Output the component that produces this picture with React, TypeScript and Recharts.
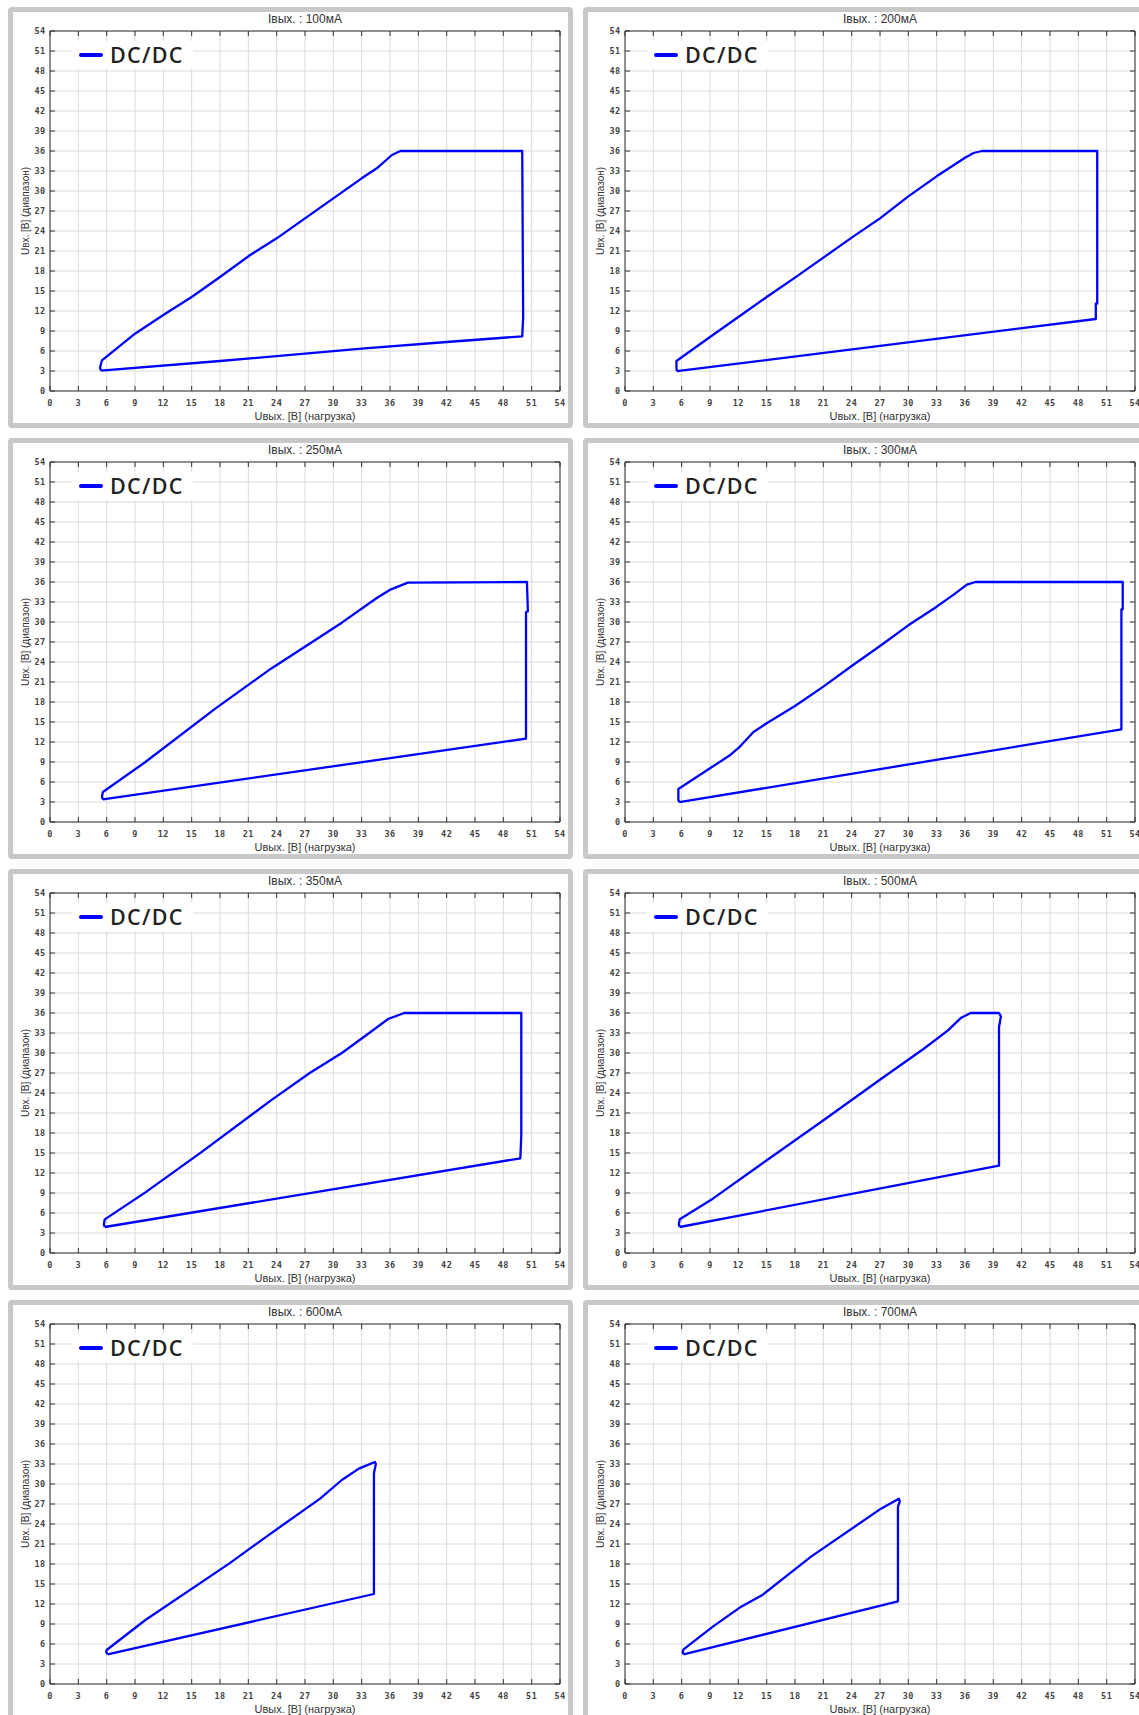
import { CartesianGrid, Line, LineChart, ReferenceLine, XAxis, YAxis } from 'recharts';

const axisTicks = [0, 3, 6, 9, 12, 15, 18, 21, 24, 27, 30, 33, 36, 39, 42, 45, 48, 51, 54];

// contour of each working area: uOut = Uвых (x), uIn = Uвх (y), in drawing order
const uOut100 = [5.4, 5.3, 5.5, 9, 12, 15, 18, 21.2, 24, 27, 30, 33, 34.6, 36.2, 37.1, 50.0, 50.1, 50.0, 42, 33, 18, 5.4];
const uIn100 = [3.05, 3.5, 4.6, 8.6, 11.4, 14.1, 17.1, 20.4, 22.9, 25.9, 28.9, 31.9, 33.4, 35.4, 36.0, 36.0, 11.0, 8.2, 7.35, 6.35, 4.5, 3.05];

const uOut200 = [5.5, 5.45, 5.45, 9, 12, 15, 18, 21, 24, 27, 30, 33, 36, 36.9, 37.8, 50.0, 50.0, 49.85, 49.85, 5.5];
const uIn200 = [2.97, 3.4, 4.5, 8.1, 11.1, 14.1, 17.0, 20.0, 23.0, 25.9, 29.2, 32.2, 35.0, 35.7, 36.0, 36.0, 13.1, 13.1, 10.8, 2.97];

const uOut250 = [5.6, 5.5, 5.6, 10.1, 17.5, 23.4, 30.9, 34.6, 36.1, 37.9, 50.5, 50.6, 50.4, 50.4, 5.6];
const uIn250 = [3.4, 3.8, 4.5, 9.0, 17.0, 23.0, 29.9, 33.6, 34.9, 35.9, 36.0, 31.6, 31.5, 12.5, 3.4];

const uOut300 = [5.76, 5.65, 5.65, 9.0, 11.1, 12.2, 13.6, 15.0, 18.0, 21.0, 24.0, 27.0, 30.0, 33.0, 34.8, 36.2, 37.1, 52.7, 52.7, 52.56, 52.56, 5.76];
const uIn300 = [2.97, 3.3, 4.95, 8.05, 10.0, 11.35, 13.5, 14.8, 17.4, 20.3, 23.4, 26.4, 29.5, 32.3, 34.1, 35.6, 36.0, 36.0, 31.9, 31.9, 13.9, 2.97];

const uOut350 = [5.8, 5.7, 5.8, 10.1, 16.0, 23.4, 27.5, 30.9, 33.8, 35.8, 37.5, 49.9, 49.9, 49.8, 5.8];
const uIn350 = [3.9, 4.3, 5.05, 9.1, 15.1, 22.9, 27.0, 30.0, 33.0, 35.1, 36.0, 36.0, 17.6, 14.2, 3.9];

const uOut500 = [5.8, 5.7, 5.8, 9.3, 15.2, 21.2, 27.1, 31.6, 34.2, 35.6, 36.6, 39.6, 39.8, 39.6, 39.6, 5.8];
const uIn500 = [3.9, 4.3, 5.05, 8.15, 14.1, 20.1, 26.1, 30.6, 33.4, 35.3, 36.0, 36.0, 35.5, 33.9, 13.1, 3.9];

const uOut600 = [6.1, 5.95, 6.0, 10.1, 19.0, 23.4, 28.6, 30.9, 32.7, 34.4, 34.5, 34.3, 34.3, 6.1];
const uIn600 = [4.45, 4.8, 5.1, 9.6, 18.1, 22.6, 27.8, 30.6, 32.3, 33.3, 33.0, 31.6, 13.5, 4.45];

const uOut700 = [6.2, 6.1, 6.2, 9.3, 12.3, 14.5, 19.7, 27.1, 29.0, 29.1, 28.9, 28.9, 6.2];
const uIn700 = [4.45, 4.8, 5.2, 8.6, 11.6, 13.3, 19.1, 26.3, 27.8, 27.4, 26.6, 12.4, 4.45];

const panels = [
  { title: 'Iвых. : 100мА', uOut: uOut100, uIn: uIn100 },
  { title: 'Iвых. : 200мА', uOut: uOut200, uIn: uIn200 },
  { title: 'Iвых. : 250мА', uOut: uOut250, uIn: uIn250 },
  { title: 'Iвых. : 300мА', uOut: uOut300, uIn: uIn300 },
  { title: 'Iвых. : 350мА', uOut: uOut350, uIn: uIn350 },
  { title: 'Iвых. : 500мА', uOut: uOut500, uIn: uIn500 },
  { title: 'Iвых. : 600мА', uOut: uOut600, uIn: uIn600 },
  { title: 'Iвых. : 700мА', uOut: uOut700, uIn: uIn700 },
];

const CHART_W = 555;
const CHART_H = 411;
const PLOT_LEFT = 37;
const PLOT_TOP = 19;
const PLOT_RIGHT = 547;
const PLOT_BOTTOM = 379;
const FRAME = '#333';
const tickFont = { fontFamily: 'DejaVu Sans Mono', fontSize: 8.5, fontWeight: 700, fill: '#444', letterSpacing: 0.5 };

function XTick({ x, payload }: any) {
  return (
    <g>
      <line x1={x} x2={x} y1={PLOT_BOTTOM} y2={PLOT_BOTTOM - 5} stroke={FRAME} />
      <line x1={x} x2={x} y1={PLOT_TOP} y2={PLOT_TOP + 5} stroke={FRAME} />
      <text x={x} y={PLOT_BOTTOM + 14.7} textAnchor="middle" {...tickFont}>
        {payload.value}
      </text>
    </g>
  );
}

function YTick({ y, payload }: any) {
  return (
    <g>
      <line x1={PLOT_LEFT} x2={PLOT_LEFT + 5} y1={y} y2={y} stroke={FRAME} />
      <line x1={PLOT_RIGHT} x2={PLOT_RIGHT - 5} y1={y} y2={y} stroke={FRAME} />
      <text x={PLOT_LEFT - 4.3} y={y + 3} textAnchor="end" {...tickFont}>
        {payload.value}
      </text>
    </g>
  );
}

function Panel({ title, uOut, uIn, left, top }: any) {
  const data = uOut.map((x: number, i: number) => ({ x, y: uIn[i] }));
  return (
    <div
      style={{
        position: 'absolute',
        left,
        top,
        width: 565,
        height: 421,
        boxSizing: 'border-box',
        border: '5px solid #c8c8c8',
        borderRadius: 4,
        background: '#fff',
      }}
    >
      <div
        style={{
          position: 'absolute',
          left: PLOT_LEFT,
          width: PLOT_RIGHT - PLOT_LEFT,
          top: 1,
          textAlign: 'center',
          fontFamily: 'Liberation Sans',
          fontSize: 12,
          lineHeight: '13px',
          color: '#333',
        }}
      >
        {title}
      </div>
      <LineChart width={CHART_W} height={CHART_H} data={data} margin={{ top: PLOT_TOP, right: CHART_W - PLOT_RIGHT, left: 0, bottom: 0 }}>
        <CartesianGrid stroke="#dadada" />
        <XAxis
          dataKey="x"
          type="number"
          domain={[0, 54]}
          ticks={axisTicks}
          interval={0}
          height={CHART_H - PLOT_BOTTOM}
          axisLine={{ stroke: FRAME }}
          tickLine={false}
          tick={<XTick />}
          label={{
            value: 'Uвых. [В] (нагрузка)',
            position: 'insideBottom',
            offset: 3,
            style: { fontFamily: 'Liberation Sans', fontSize: 11, fill: '#333' },
          }}
        />
        <YAxis
          dataKey="y"
          type="number"
          domain={[0, 54]}
          ticks={axisTicks}
          interval={0}
          width={PLOT_LEFT}
          axisLine={{ stroke: FRAME }}
          tickLine={false}
          tick={<YTick />}
          label={{
            value: 'Uвх. [В] (диапазон)',
            angle: -90,
            position: 'insideLeft',
            offset: 12.6,
            style: { fontFamily: 'Liberation Sans', fontSize: 10, fill: '#333', textAnchor: 'middle' },
          }}
        />
        <ReferenceLine y={54} stroke={FRAME} />
        <ReferenceLine x={54} stroke={FRAME} />
        <Line
          type="linear"
          dataKey="y"
          stroke="#0000ff"
          strokeWidth={2.3}
          strokeLinejoin="round"
          dot={false}
          activeDot={false}
          isAnimationActive={false}
        />
      </LineChart>
      <div
        style={{
          position: 'absolute',
          left: 59,
          top: 29,
          width: 121,
          height: 28,
          background: '#fff',
          display: 'flex',
          alignItems: 'center',
        }}
      >
        <span style={{ display: 'inline-block', marginLeft: 7, width: 24, height: 4.5, borderRadius: 3, background: '#0000ff' }} />
        <span
          style={{
            marginLeft: 7,
            fontFamily: 'Open Sans',
            fontSize: 21.5,
            fontWeight: 600,
            letterSpacing: 1.3,
            color: '#222',
            lineHeight: '28px',
          }}
        >
          DC/DC
        </span>
      </div>
    </div>
  );
}

export default function App() {
  return (
    <div style={{ position: 'relative', width: 1139, height: 1715, overflow: 'hidden', background: '#fff' }}>
      <style>{'body { margin: 0; }'}</style>
      {panels.map((p, i) => (
        <Panel key={p.title} {...p} left={8 + (i % 2) * 575} top={7 + Math.floor(i / 2) * 431} />
      ))}
    </div>
  );
}
